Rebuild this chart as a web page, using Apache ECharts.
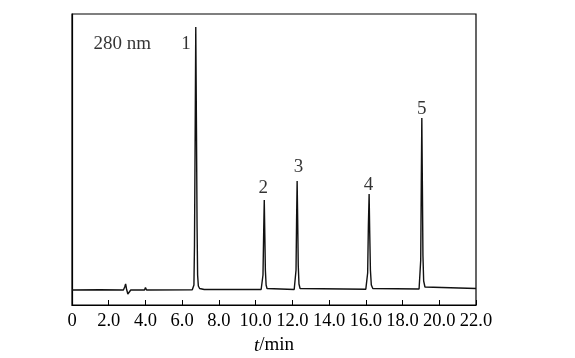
<!DOCTYPE html>
<html>
<head>
<meta charset="utf-8">
<script src="https://cdn.jsdelivr.net/npm/echarts@6/dist/echarts.min.js"></script>
<style>html,body{margin:0;padding:0;background:#fff}#c{width:575px;height:358px}</style>
</head>
<body>
<div id="c"></div>
<script>
// chromatogram signal: [time (min), response (arbitrary units)]
var signal = [
  [0,15],[1.5,15.2],[2.8,15],[2.87,18],[2.92,21],[2.97,16],[3.04,11],[3.1,12.5],[3.2,15],
  [3.95,15],[4.0,17.5],[4.06,15],
  [6.55,15.3],[6.6,16],[6.64,20],[6.67,60],[6.7,150],[6.74,278],[6.78,170],[6.81,80],[6.84,30],[6.88,19],[6.95,16.5],[7.2,15.5],
  [10.3,15.5],[10.36,17],[10.4,30],[10.44,75],[10.47,105],[10.5,70],[10.53,35],[10.57,20],[10.62,16.5],[10.7,15.5],
  [12.1,15.5],[12.16,17],[12.2,35],[12.23,85],[12.26,124],[12.29,85],[12.32,40],[12.36,21],[12.42,16.5],[12.5,15.5],
  [16.0,15.8],[16.06,17.5],[16.1,32],[16.14,80],[16.18,111],[16.21,75],[16.25,35],[16.3,20],[16.38,16.5],[16.45,16],
  [18.9,16],[18.95,18],[18.99,45],[19.02,120],[19.05,187],[19.08,120],[19.11,50],[19.15,24],[19.22,18],[19.3,17],[22,16.5]
];
var peakLabels = ['1','2','3','4','5','280 nm'];
var peakLabelPos = [[6.21,261],[10.42,117],[12.33,138],[16.14,120],[19.05,196],[2.74,261]];
var xTickLabels = ['0','2.0','4.0','6.0','8.0','10.0','12.0','14.0','16.0','18.0','20.0','22.0'];

var font = 'Liberation Serif';
var chart = echarts.init(document.getElementById('c'), null, {renderer:'canvas'});
chart.setOption({
  animation:false,
  grid:{left:72,right:99,top:14,bottom:53,outerBoundsMode:'none',containLabel:false,
    show:true,borderColor:'#000',borderWidth:1.2,backgroundColor:'transparent'},
  xAxis:{
    type:'value',min:0,max:22,interval:2,
    axisLine:{show:true,lineStyle:{color:'#000',width:1.2}},
    axisTick:{show:true,inside:true,length:5,lineStyle:{color:'#000',width:1}},
    splitLine:{show:false},
    axisLabel:{margin:7,color:'#000',fontFamily:font,fontSize:18.5,
      formatter:function(v){return xTickLabels[Math.round(v/2)];}},
    name:'{i|t}/min',nameLocation:'middle',nameGap:31,
    nameTextStyle:{color:'#000',fontFamily:font,fontSize:19,
      rich:{i:{fontStyle:'italic',fontFamily:font,fontSize:19,color:'#000'}}}
  },
  yAxis:{
    type:'value',min:0,max:291,
    axisLine:{show:true,lineStyle:{color:'#000',width:1.2}},
    axisTick:{show:false},axisLabel:{show:false},splitLine:{show:false}
  },
  series:[
    {type:'line',data:signal,symbol:'none',smooth:false,
     lineStyle:{color:'#111',width:1.4},z:3},
    {type:'scatter',symbolSize:0,silent:true,
     data:peakLabelPos.map(function(p,i){return {value:p,name:peakLabels[i]};}),
     label:{show:true,position:'inside',formatter:function(p){return p.name;},
       color:'#000',fontFamily:font,fontSize:19}}
  ]
});
</script>
</body>
</html>
